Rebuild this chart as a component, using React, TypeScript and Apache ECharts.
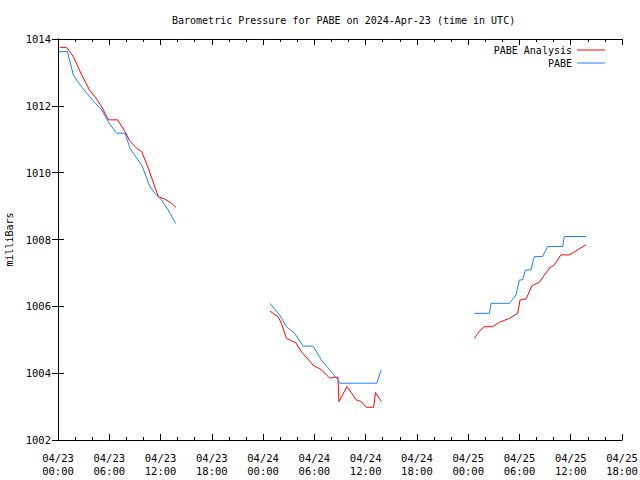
import React, { useEffect, useRef } from "react";
import * as echarts from "echarts";

// hours since 2024-04-23 00:00 UTC
const xTickLabels = [
  "04/23\n00:00", "04/23\n06:00", "04/23\n12:00", "04/23\n18:00",
  "04/24\n00:00", "04/24\n06:00", "04/24\n12:00", "04/24\n18:00",
  "04/25\n00:00", "04/25\n06:00", "04/25\n12:00", "04/25\n18:00",
];

const analysisSeg1: [number, number][] = [
  [0.2, 1013.75], [1.0, 1013.75], [1.8, 1013.47], [2.78, 1012.92], [3.76, 1012.44],
  [4.34, 1012.27], [5.12, 1011.97], [5.9, 1011.58], [6.99, 1011.58], [7.84, 1011.23],
  [8.4, 1010.95], [9.2, 1010.73], [9.8, 1010.63], [10.57, 1010.13], [11.74, 1009.28],
  [12.5, 1009.21], [13.3, 1009.08], [13.8, 1008.96],
];
const analysisSeg2: [number, number][] = [
  [24.78, 1005.86], [25.17, 1005.79], [25.75, 1005.69], [26.15, 1005.49], [26.73, 1005.04],
  [27.32, 1004.97], [27.82, 1004.91], [28.49, 1004.64], [29.85, 1004.24], [30.82, 1004.1],
  [31.8, 1003.85], [32.38, 1003.88], [32.76, 1003.88], [32.88, 1003.15], [33.82, 1003.6],
  [34.9, 1003.2], [35.49, 1003.15], [36.08, 1002.98], [36.93, 1002.98], [37.16, 1003.42],
  [37.83, 1003.15],
];
const analysisSeg3: [number, number][] = [
  [48.73, 1005.04], [49.32, 1005.26], [49.9, 1005.39], [50.87, 1005.39], [51.65, 1005.52],
  [52.82, 1005.64], [53.79, 1005.79], [54.07, 1006.19], [54.77, 1006.22], [55.47, 1006.62],
  [56.33, 1006.72], [57.49, 1007.14], [58.08, 1007.24], [58.86, 1007.54], [59.83, 1007.54],
  [61.78, 1007.84],
];

const stationSeg1: [number, number][] = [
  [0.1, 1013.62], [1.1, 1013.62], [1.8, 1012.92], [2.59, 1012.62], [3.56, 1012.32],
  [4.34, 1012.08], [5.12, 1011.88], [5.9, 1011.51], [6.87, 1011.18], [7.84, 1011.18],
  [8.43, 1010.73], [9.0, 1010.51], [9.8, 1010.23], [10.76, 1009.58], [11.35, 1009.38],
  [12.13, 1009.18], [12.9, 1008.88], [13.77, 1008.48],
];
const stationSeg2: [number, number][] = [
  [24.78, 1006.09], [25.95, 1005.74], [26.73, 1005.39], [27.7, 1005.19], [28.68, 1004.81],
  [29.85, 1004.81], [30.82, 1004.39], [31.8, 1004.1], [32.76, 1003.8], [32.96, 1003.7],
  [37.3, 1003.7], [37.83, 1004.1],
];
const stationSeg3: [number, number][] = [
  [48.73, 1005.79], [50.48, 1005.79], [50.68, 1006.09], [52.82, 1006.09], [53.6, 1006.34],
  [53.99, 1006.79], [54.38, 1006.79], [54.7, 1007.09], [55.35, 1007.09], [55.74, 1007.49],
  [56.71, 1007.49], [57.3, 1007.79], [59.05, 1007.79], [59.25, 1008.09], [61.78, 1008.09],
];

const RED = "#ff0000";
const BLUE = "#1a80ff";
const FONT = "'DejaVu Sans Mono', monospace";

export default function App() {
  const ref = useRef<HTMLDivElement>(null);
  useEffect(() => {
    if (!ref.current) return;
    const chart = echarts.init(ref.current, null, { renderer: "svg" });
    const mkSeries = (name: string, color: string, data: [number, number][]) => ({
      name,
      type: "line",
      data,
      showSymbol: false,
      symbol: "none",
      lineStyle: { color, width: 1 },
      itemStyle: { color },
      xAxisIndex: 0,
      yAxisIndex: 0,
    });
    const axisLineStyle = { color: "#000", width: 1 };
    chart.setOption({
      animation: false,
      backgroundColor: "#fff",
      title: {
        text: "Barometric Pressure for PABE on 2024-Apr-23 (time in UTC)",
        left: 167,
        top: 10,
        textStyle: { fontFamily: FONT, fontSize: 10, fontWeight: "normal", color: "#000" },
      },
      legend: [
        {
          data: ["PABE Analysis"],
          right: 30,
          top: 40,
          align: "right",
          icon: "rect",
          itemWidth: 28,
          itemHeight: 1,
          textStyle: { fontFamily: FONT, fontSize: 10, color: "#000" },
          selectedMode: false,
        },
        {
          data: ["PABE"],
          right: 30,
          top: 53,
          align: "right",
          icon: "rect",
          itemWidth: 28,
          itemHeight: 1,
          textStyle: { fontFamily: FONT, fontSize: 10, color: "#000" },
          selectedMode: false,
        },
      ],
      grid: { left: 58, right: 18, top: 39, bottom: 40, containLabel: false, outerBoundsMode: "none" },
      xAxis: [
        {
          type: "value",
          min: 0,
          max: 66,
          interval: 6,
          position: "bottom",
          axisLine: { lineStyle: axisLineStyle },
          axisTick: { inside: true, length: 6, lineStyle: axisLineStyle },
          minorTick: { show: true, splitNumber: 3, length: 3, lineStyle: axisLineStyle },
          splitLine: { show: false },
          axisLabel: {
            formatter: (v: number) => xTickLabels[Math.round(v / 6)] ?? "",
            fontFamily: FONT,
            fontSize: 10.5,
            color: "#000",
            lineHeight: 13,
            margin: 11,
          },
        },
        {
          type: "value",
          min: 0,
          max: 66,
          interval: 6,
          position: "top",
          axisLine: { lineStyle: axisLineStyle },
          axisTick: { inside: true, length: 6, lineStyle: axisLineStyle },
          minorTick: { show: true, splitNumber: 3, length: 3, lineStyle: axisLineStyle },
          splitLine: { show: false },
          axisLabel: { show: false },
        },
      ],
      yAxis: [
        {
          type: "value",
          min: 1002,
          max: 1014,
          interval: 2,
          position: "left",
          name: "milliBars",
          nameLocation: "middle",
          nameGap: 42,
          nameRotate: 90,
          nameTextStyle: { fontFamily: FONT, fontSize: 10, color: "#000" },
          axisLine: { show: true, lineStyle: axisLineStyle },
          axisTick: { show: true, inside: true, length: 6, lineStyle: axisLineStyle },
          splitLine: { show: false },
          axisLabel: {
            formatter: (v: number) => String(v),
            fontFamily: FONT,
            fontSize: 10.5,
            color: "#000",
            margin: 7,
          },
        },
        {
          type: "value",
          min: 1002,
          max: 1014,
          interval: 2,
          position: "right",
          axisLine: { show: true, lineStyle: axisLineStyle },
          axisTick: { show: true, inside: true, length: 6, lineStyle: axisLineStyle },
          splitLine: { show: false },
          axisLabel: { show: false },
        },
      ],
      series: [
        mkSeries("PABE Analysis", RED, analysisSeg1),
        mkSeries("PABE Analysis", RED, analysisSeg2),
        mkSeries("PABE Analysis", RED, analysisSeg3),
        mkSeries("PABE", BLUE, stationSeg1),
        mkSeries("PABE", BLUE, stationSeg2),
        mkSeries("PABE", BLUE, stationSeg3),
      ],
    });
    return () => chart.dispose();
  }, []);
  return <div ref={ref} style={{ width: 640, height: 480, position: "absolute", left: 0, top: 0 }} />;
}
